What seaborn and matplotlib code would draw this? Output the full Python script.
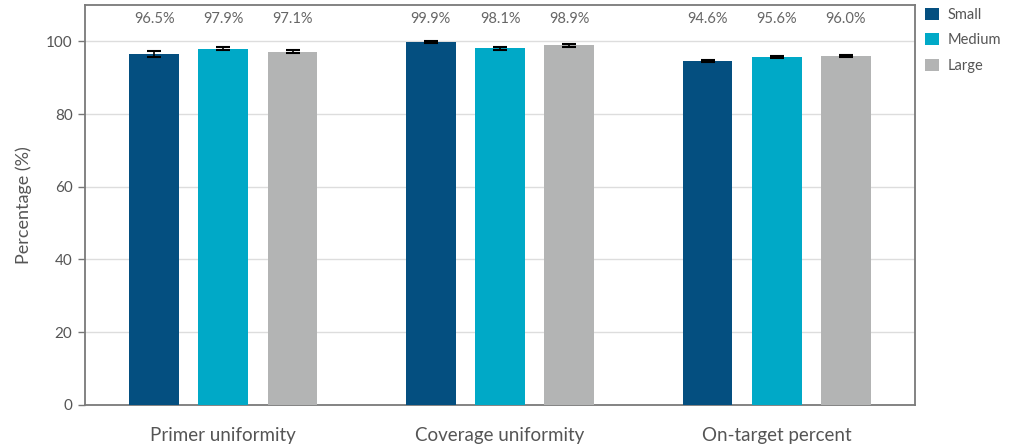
import matplotlib
matplotlib.use("Agg")
import matplotlib.pyplot as plt
from matplotlib.patches import Patch
import numpy as np
import pandas as pd
import seaborn as sns

metrics = ["Primer uniformity", "Coverage uniformity", "On-target percent"]
sizes = ["Small", "Medium", "Large"]
small_vals = [96.5, 99.9, 94.6]
medium_vals = [97.9, 98.1, 95.6]
large_vals = [97.1, 98.9, 96.0]
small_err = [0.9, 0.3, 0.3]
medium_err = [0.4, 0.4, 0.3]
large_err = [0.4, 0.4, 0.3]
palette = ["#044f80", "#00a9c7", "#b3b4b4"]

df = pd.DataFrame({
    "metric": metrics * 3,
    "size": [s for s in sizes for _ in metrics],
    "value": small_vals + medium_vals + large_vals,
    "err": small_err + medium_err + large_err,
})

sns.set_theme(style="white")
plt.rcParams["font.family"] = ["Lato", "DejaVu Sans"]
text_col = "#555555"

fig = plt.figure(figsize=(10.16, 4.46), dpi=100)
ax = fig.add_axes([0.0837, 0.092, 0.8169, 0.897])

sns.barplot(data=df, x="metric", y="value", hue="size", order=metrics,
            hue_order=sizes, palette=palette, errorbar=None, width=0.75,
            gap=0.28, saturation=1, linewidth=0, edgecolor="none",
            ax=ax, legend=False, zorder=3)

# error bars and value labels at each bar's centre
for container, size in zip(ax.containers, sizes):
    sub = df[df["size"] == size].set_index("metric").loc[metrics]
    xs = [p.get_x() + p.get_width() / 2 for p in container.patches]
    ax.errorbar(xs, sub["value"].values, yerr=sub["err"].values, fmt="none",
                ecolor="black", elinewidth=1.2, capsize=5, capthick=1.5, zorder=4)
    for x, v in zip(xs, sub["value"].values):
        ax.text(x, 106.2, f"{v:.1f}%", ha="center", va="center",
                fontsize=10.5, color="#666666")

ax.set_xlim(-0.5, 2.5)
ax.set_ylim(0, 110)
ax.set_yticks([0, 20, 40, 60, 80, 100])
ax.yaxis.grid(True, color="#dddddd", linewidth=1, zorder=0)
ax.set_axisbelow(True)
ax.set_xlabel("")
ax.set_ylabel("Percentage (%)", fontsize=13, color=text_col, labelpad=10)
ax.tick_params(axis="y", labelsize=11, colors=text_col, length=5, width=1,
               color="#777777", left=True, pad=4)
ax.tick_params(axis="x", labelsize=13.5, colors=text_col, length=0, pad=16)
for sp in ax.spines.values():
    sp.set_visible(True)
    sp.set_color("#7a7a7a")
    sp.set_linewidth(1.3)

handles = [Patch(facecolor=c, edgecolor="none") for c in palette]
fig.legend(handles, sizes, loc="upper left", bbox_to_anchor=(0.898, 1.012),
           frameon=False, fontsize=10.5, handlelength=0.9, handleheight=0.9,
           handletextpad=0.6, labelspacing=0.78, labelcolor=text_col)

fig.savefig("out.png", dpi=100)
